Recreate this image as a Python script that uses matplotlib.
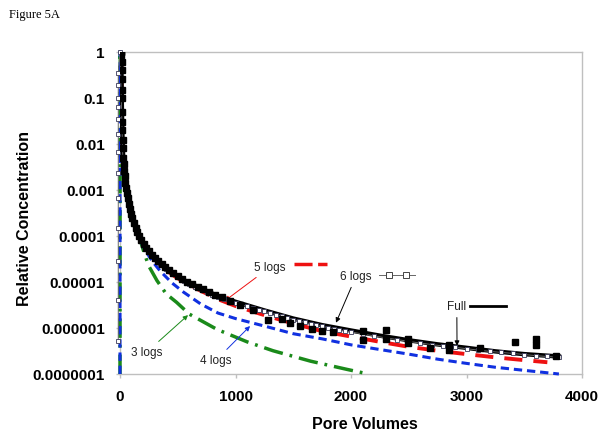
import numpy as np
import matplotlib
matplotlib.use('Agg')
import matplotlib.pyplot as plt

plt.rcParams['font.family'] = ['Liberation Sans', 'DejaVu Sans']
plt.rcParams['lines.scale_dashes'] = False

# model curves (pore volumes, relative concentration)
full_x = [4, 8, 12, 15, 18, 24, 32, 45, 60, 80, 100, 130, 170, 220, 280, 350, 450, 550,
          700, 850, 1000, 1250, 1500, 1750, 2000, 2250, 2500, 2750, 3000, 3250, 3500, 3800]
full_y = [1.0, 0.9, 0.5, 0.1, 0.03, 0.008, 0.003, 0.0013, 7.5e-4, 4.2e-4, 2.7e-4,
          1.6e-4, 9.5e-5, 5.8e-5, 3.7e-5, 2.5e-5, 1.6e-5, 1.1e-5, 7.2e-6, 4.9e-6, 3.7e-6,
          2.4e-6, 1.6e-6, 1.15e-6, 8.8e-7, 6.8e-7, 5.4e-7, 4.4e-7, 3.7e-7, 3.1e-7, 2.7e-7, 2.4e-7]

logs5_x = [4, 8, 12, 15, 18, 24, 32, 45, 60, 80, 100, 130, 170, 220, 280, 350, 450, 550,
           700, 850, 1000, 1250, 1500, 1750, 2000, 2250, 2500, 2750, 3000, 3250, 3500, 3700]
logs5_y = [1.0, 0.9, 0.5, 0.1, 0.03, 0.008, 0.003, 0.0013, 7.5e-4, 4.2e-4, 2.7e-4,
           1.6e-4, 9.3e-5, 5.6e-5, 3.5e-5, 2.3e-5, 1.45e-5, 1.0e-5, 6.4e-6, 4.2e-6, 3.0e-6,
           1.9e-6, 1.25e-6, 8.5e-7, 6.5e-7, 5.0e-7, 3.9e-7, 3.2e-7, 2.7e-7, 2.3e-7, 2.0e-7, 1.8e-7]

logs4_x = [0, 1, 3, 6, 10, 13, 16, 22, 30, 45, 60, 80, 100, 130, 170, 220, 280, 350, 450, 550,
           700, 850, 1000, 1250, 1500, 1750, 2000, 2250, 2500, 2750, 3000, 3250, 3500, 3800]
logs4_y = [1e-7, 1.0, 0.9, 0.7, 0.35, 0.09, 0.028, 0.0075, 0.0028, 0.0012, 7e-4, 4e-4, 2.5e-4,
           1.45e-4, 8.5e-5, 4.8e-5, 2.8e-5, 1.7e-5, 9.5e-6, 6.0e-6, 3.3e-6, 2.1e-6, 1.6e-6,
           1.1e-6, 7.5e-7, 5.8e-7, 4.3e-7, 3.4e-7, 2.7e-7, 2.1e-7, 1.7e-7, 1.4e-7, 1.2e-7, 1.0e-7]

logs3_x = [0, 1, 3, 6, 10, 14, 22, 30, 50, 75, 100, 130, 170, 210, 250, 320, 400, 490, 600,
           840, 1100, 1325, 1650, 1965, 2150]
logs3_y = [1e-7, 1.0, 0.6, 0.2, 0.05, 0.015, 0.005, 0.003, 0.0012, 6e-4, 3.2e-4, 1.8e-4, 9e-5,
           4.2e-5, 2.2e-5, 1.07e-5, 5.5e-6, 3.6e-6, 2.0e-6, 9.3e-7, 5e-7, 3.2e-7, 1.9e-7,
           1.26e-7, 1e-7]

logs6_x = [-15, -15, -15, -15, -15, -15, -15, -15, -15, -15, -15, -15, -15, 1,
           25, 50, 75, 100, 150, 200, 250, 300, 350, 400, 450, 500, 550, 600, 650, 700, 750,
           800, 850, 900, 950, 1000, 1050, 1100, 1150, 1200, 1250, 1300, 1350, 1400, 1450,
           1500, 1550, 1600, 1650, 1700, 1750, 1800, 1850, 1900, 1950, 2000, 2100, 2200, 2300,
           2400, 2500, 2600, 2700, 2800, 2900, 3000, 3100, 3200, 3300, 3400, 3500, 3600, 3700, 3800]
logs6_y = [5.1e-7, 4.1e-6, 2.8e-5, 1.5e-4, 6.5e-4, 2.3e-3, 6.6e-3, 0.016, 0.034, 0.062, 0.10,
           0.19, 0.34, 1.0,
           4e-3, 1.0e-3, 4.5e-4, 2.6e-4, 1.2e-4, 6.8e-5, 4.4e-5, 3.2e-5, 2.4e-5, 1.9e-5,
           1.5e-5, 1.25e-5, 1.05e-5, 9e-6, 7.9e-6, 6.9e-6, 6.0e-6, 5.3e-6, 4.7e-6, 4.2e-6,
           3.8e-6, 3.5e-6, 3.2e-6, 2.95e-6, 2.7e-6, 2.5e-6, 2.3e-6, 2.1e-6, 1.95e-6, 1.8e-6,
           1.65e-6, 1.52e-6, 1.42e-6, 1.32e-6, 1.23e-6, 1.15e-6, 1.08e-6, 1.02e-6, 9.6e-7,
           9.1e-7, 8.6e-7, 8.2e-7, 7.4e-7, 6.7e-7, 6.1e-7, 5.6e-7, 5.1e-7, 4.7e-7, 4.35e-7,
           4.05e-7, 3.8e-7, 3.55e-7, 3.3e-7, 3.1e-7, 2.95e-7, 2.8e-7, 2.65e-7, 2.5e-7, 2.4e-7, 2.3e-7]

# measured effluent data
meas_x = [6, 9, 11, 13, 14, 15, 16, 17, 18, 19, 20, 22, 24, 27, 31, 35, 40, 46, 52, 58, 65, 74,
          84, 95, 107, 120, 135, 150, 167, 185, 205, 227, 250, 275, 302, 330, 360, 392, 426, 462,
          500, 540, 582, 626, 672, 720, 770, 822, 880, 952, 1039, 1154, 1284, 1400, 1472, 1558,
          1662, 1749, 1844, 2104, 2104, 2303, 2303, 2494, 2494, 2684, 2848, 2848, 3117, 3420,
          3602, 3602, 3775]
meas_y = [1.0, 0.97, 0.85, 0.6, 0.4, 0.25, 0.15, 0.1, 0.05, 0.03, 0.02, 0.012, 0.008, 0.005,
          0.0037, 0.0026, 0.002, 0.0014, 0.0011, 8.5e-4, 6.5e-4, 4.9e-4, 3.8e-4, 3.0e-4, 2.4e-4,
          1.9e-4, 1.5e-4, 1.2e-4, 9.8e-5, 8.0e-5, 6.6e-5, 5.4e-5, 4.6e-5, 3.9e-5, 3.3e-5,
          2.8e-5, 2.4e-5, 2.1e-5, 1.8e-5, 1.55e-5, 1.35e-5, 1.15e-5, 1.0e-5, 8.8e-6, 7.8e-6,
          6.9e-6, 6.0e-6, 5.2e-6, 4.6e-6, 3.9e-6, 3.1e-6, 2.5e-6, 1.5e-6, 1.6e-6, 1.3e-6,
          1.1e-6, 9.5e-7, 8.5e-7, 8.2e-7, 8.5e-7, 5.4e-7, 8.9e-7, 5.8e-7, 5.8e-7, 4.6e-7,
          3.6e-7, 4.2e-7, 3.3e-7, 3.6e-7, 4.9e-7, 5.8e-7, 4.2e-7, 2.5e-7]

y_ticks = [1e-7, 1e-6, 1e-5, 1e-4, 1e-3, 1e-2, 1e-1, 1]
y_tick_labels = ['0.0000001', '0.000001', '0.00001', '0.0001', '0.001', '0.01', '0.1', '1']
x_ticks = [0, 1000, 2000, 3000, 4000]

W, H = 609, 439
fig = plt.figure(figsize=(W / 100, H / 100), dpi=100)
ax = fig.add_axes([120 / W, 1 - 375 / H, 462 / W, 322.3 / H])

ax.plot(logs3_x, logs3_y, color='#1a8a1a', lw=2.5, dashes=(14, 5, 2, 5), zorder=3,
        clip_on=False)
ax.plot(logs4_x, logs4_y, color='#1030e0', lw=2.2, dashes=(6, 3.5), zorder=3.5,
        clip_on=False)
ax.plot(logs5_x, logs5_y, color='#ee1111', lw=2.8, dashes=(13, 8), zorder=4)
ax.plot(full_x, full_y, color='black', lw=3.2, zorder=5)
ax.plot(logs6_x, logs6_y, color='#666666', lw=0.7, marker='s', ms=3.5, mfc='white',
        mec='#3a3a5a', mew=0.6, zorder=6, clip_on=False)
ax.plot(meas_x, meas_y, ls='none', marker='s', ms=4.5, color='black', zorder=7)

ax.set_yscale('log')
ax.set_ylim(1e-7, 1)
ax.set_xlim(0, 4000)
ax.set_yticks(y_ticks)
ax.set_yticklabels(y_tick_labels)
ax.yaxis.set_minor_locator(matplotlib.ticker.NullLocator())
ax.set_xticks(x_ticks)
ax.set_xticklabels([str(v) for v in x_ticks])

for s in ax.spines.values():
    s.set_color('#BFBFBF')
    s.set_linewidth(1)
    s.set_zorder(1)
ax.tick_params(axis='both', direction='out', length=3, color='#BFBFBF', width=1,
               labelsize=11, pad=8)
for lab in ax.get_xticklabels() + ax.get_yticklabels():
    lab.set_fontweight('bold')

ax.set_xlabel('Pore Volumes', fontsize=11.5, fontweight='bold')
ax.xaxis.set_label_coords((365 - 120) / 462, -0.13)
ax.set_ylabel('Relative Concentration', fontsize=11.5, fontweight='bold')
ax.yaxis.set_label_coords(-0.19, 0.486)

fig.text(9 / W, 1 - 15 / H, 'Figure 5A', family='Liberation Serif', fontsize=9, va='center')

def note(text, tip, txt, color):
    ax.annotate(text, xy=tip, xytext=txt, textcoords='axes fraction', ha='center', va='center',
                fontsize=8.5, color='#222222',
                arrowprops=dict(arrowstyle='-|>', color=color, lw=0.7, mutation_scale=7,
                                shrinkA=2, shrinkB=0))

note('3 logs', (589, 1.9e-6), (0.058, 0.068), '#1a8a1a')
note('4 logs', (1126, 1.1e-6), (0.208, 0.043), '#1030e0')
note('5 logs', (909, 3.9e-6), (0.325, 0.332), '#ee1111')
note('6 logs', (1870, 1.3e-6), (0.511, 0.304), 'black')
note('Full', (2918, 4.1e-7), (0.729, 0.211), 'black')

# keys next to the labels
ax.plot([0.377, 0.448], [0.341, 0.341], transform=ax.transAxes, color='#ee1111', lw=2.5,
        dashes=(13, 4), clip_on=False)
ax.plot([0.561, 0.639], [0.307, 0.307], transform=ax.transAxes, color='#666666', lw=0.7,
        clip_on=False)
ax.plot([0.582, 0.619], [0.307, 0.307], transform=ax.transAxes, ls='none', marker='s', ms=5,
        mfc='white', mec='#444444', mew=0.7, clip_on=False)
ax.plot([0.758, 0.835], [0.211, 0.211], transform=ax.transAxes, color='black', lw=2,
        clip_on=False)

fig.savefig('out.png', dpi=100)
